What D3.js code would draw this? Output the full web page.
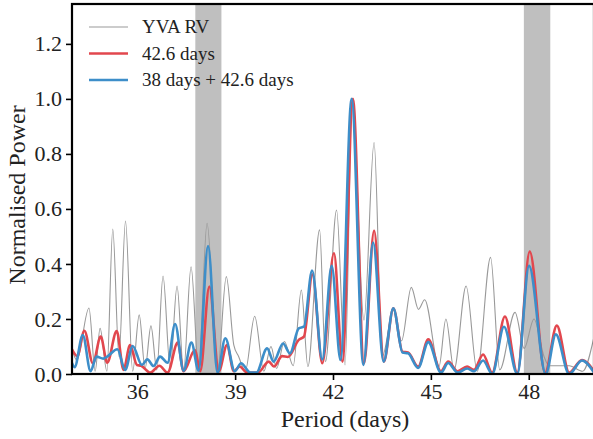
<!DOCTYPE html>
<html>
<head>
<meta charset="utf-8">
<script src="https://cdn.jsdelivr.net/npm/d3@7"></script>
<style>
	body { margin: 0; background: #fff; }
	svg text { font-family: "Liberation Serif", "DejaVu Serif", serif; fill: #222; }
</style>
</head>
<body>
<div id="chart"></div>
<script>
// periodogram peaks / troughs
const yvaPeriod = [34.0, 34.15, 34.52, 34.71, 34.86, 35.07, 35.25, 35.44, 35.64, 35.86, 36.06, 36.24, 36.42, 36.6, 36.79, 37.01, 37.22, 37.42, 37.65, 37.88, 38.14, 38.46, 38.73, 38.96, 39.11, 39.31, 39.6, 39.88, 40.1, 40.27, 40.51, 40.78, 41.03, 41.23, 41.59, 41.77, 42.11, 42.37, 42.59, 42.95, 43.26, 43.51, 43.85, 44.1, 44.4, 44.62, 44.81, 45.25, 45.46, 45.71, 46.08, 46.42, 46.83, 47.11, 47.58, 47.86, 48.16, 48.47, 48.62, 49.24, 49.65, 50.0];
const yvaPower = [0.09, 0.05, 0.24, 0.01, 0.166, 0.01, 0.527, 0.063, 0.556, 0.01, 0.215, 0.02, 0.175, 0.015, 0.356, 0.02, 0.32, 0.01, 0.39, 0.02, 0.548, 0.01, 0.354, 0.105, 0.063, 0.01, 0.21, 0.01, 0.1, 0.02, 0.118, 0.03, 0.305, 0.027, 0.524, 0.045, 0.596, 0.033, 1.0, 0.196, 0.841, 0.063, 0.232, 0.12, 0.315, 0.235, 0.27, 0.027, 0.2, 0.015, 0.32, 0.01, 0.424, 0.015, 0.224, 0.093, 0.2, 0.063, 0.03, 0.03, 0.01, 0.135];

const redPeriod = [34.0, 34.16, 34.38, 34.64, 34.88, 35.08, 35.37, 35.58, 35.78, 35.99, 36.12, 36.4, 36.68, 36.93, 37.24, 37.42, 37.77, 37.93, 38.21, 38.5, 38.75, 38.96, 39.14, 39.37, 39.7, 40.03, 40.19, 40.44, 40.62, 40.95, 41.11, 41.37, 41.67, 42.03, 42.29, 42.61, 42.95, 43.26, 43.56, 43.85, 44.13, 44.3, 44.61, 44.92, 45.31, 45.53, 45.82, 46.11, 46.32, 46.6, 46.88, 47.27, 47.65, 48.03, 48.5, 48.86, 49.24, 49.63, 50.0];
const redPower = [0.09, 0.065, 0.157, 0.039, 0.136, 0.041, 0.156, 0.015, 0.105, 0.033, 0.03, 0.005, 0.03, 0.005, 0.114, 0.01, 0.087, 0.01, 0.318, 0.01, 0.105, 0.01, 0.027, 0.005, 0.005, 0.045, 0.027, 0.065, 0.062, 0.124, 0.136, 0.362, 0.039, 0.439, 0.045, 1.0, 0.039, 0.521, 0.045, 0.239, 0.081, 0.078, 0.027, 0.126, 0.01, 0.045, 0.01, 0.027, 0.015, 0.071, 0.005, 0.209, 0.005, 0.445, 0.005, 0.176, 0.005, 0.051, 0.01];

const bluePeriod = [34.0, 34.08, 34.33, 34.57, 34.75, 34.96, 35.1, 35.39, 35.63, 35.86, 36.14, 36.31, 36.5, 36.7, 36.93, 37.16, 37.42, 37.66, 37.88, 38.17, 38.46, 38.7, 38.99, 39.18, 39.47, 39.65, 39.98, 40.18, 40.47, 40.68, 40.95, 41.11, 41.36, 41.67, 41.96, 42.23, 42.57, 42.93, 43.23, 43.55, 43.85, 44.13, 44.3, 44.61, 44.92, 45.31, 45.53, 45.82, 46.11, 46.32, 46.6, 46.88, 47.24, 47.65, 48.01, 48.52, 48.83, 49.24, 49.63, 50.0];
const bluePower = [0.04, 0.025, 0.142, 0.01, 0.063, 0.056, 0.065, 0.09, 0.015, 0.102, 0.033, 0.053, 0.029, 0.063, 0.041, 0.182, 0.012, 0.114, 0.012, 0.465, 0.005, 0.13, 0.01, 0.039, 0.005, 0.005, 0.093, 0.045, 0.111, 0.075, 0.166, 0.172, 0.376, 0.053, 0.393, 0.051, 1.0, 0.033, 0.478, 0.045, 0.239, 0.078, 0.075, 0.022, 0.116, 0.005, 0.04, 0.005, 0.02, 0.01, 0.049, 0.0, 0.172, 0.0, 0.393, 0.0, 0.144, 0.0, 0.049, 0.005];

const bandStart = [37.78, 47.85];
const bandEnd = [38.58, 48.66];

const xTicks = [36, 39, 42, 45, 48];
const yTicks = [0.0, 0.2, 0.4, 0.6, 0.8, 1.0, 1.2];

const seriesNames = ["YVA RV", "42.6 days", "38 days + 42.6 days"];
const seriesColors = ["#999999", "#e2474e", "#3d8ec9"];
const seriesWidths = [1.1, 2.6, 2.6];

const MARGIN = { top: 4, right: -1, bottom: 65, left: 72 };
const WIDTH = 593 - MARGIN.left - MARGIN.right;
const HEIGHT = 439 - MARGIN.top - MARGIN.bottom;

const svg = d3
	.select("#chart")
	.append("svg")
	.attr("width", 593)
	.attr("height", 439);

const chart = svg
	.append("g")
	.attr("transform", `translate(${MARGIN.left}, ${MARGIN.top})`);

const xScale = d3.scaleLinear().domain([34, 50]).range([0, WIDTH]);
const yScale = d3.scaleLinear().domain([0, 1.345]).range([HEIGHT, 0]);

chart
	.append("clipPath")
	.attr("id", "plot-clip")
	.append("rect")
	.attr("width", WIDTH)
	.attr("height", HEIGHT);

// shaded period bands
chart
	.selectAll(".band")
	.data(bandStart.map((s, i) => [s, bandEnd[i]]))
	.enter()
	.append("rect")
	.attr("class", "band")
	.attr("x", (d) => xScale(d[0]))
	.attr("y", 0)
	.attr("width", (d) => xScale(d[1]) - xScale(d[0]))
	.attr("height", HEIGHT)
	.attr("fill", "#bfbfbf");

const series = [
	yvaPeriod.map((p, i) => [p, yvaPower[i]]),
	redPeriod.map((p, i) => [p, redPower[i]]),
	bluePeriod.map((p, i) => [p, bluePower[i]]),
];

const line = d3
	.line()
	.x((d) => xScale(d[0]))
	.y((d) => yScale(d[1]))
	.curve(d3.curveMonotoneX);

chart
	.append("g")
	.attr("clip-path", "url(#plot-clip)")
	.selectAll("path")
	.data(series)
	.enter()
	.append("path")
	.attr("d", line)
	.attr("fill", "none")
	.attr("stroke", (d, i) => seriesColors[i])
	.attr("stroke-width", (d, i) => seriesWidths[i])
	.attr("stroke-linejoin", "round");

// axes
const xAxisCall = d3
	.axisBottom(xScale)
	.tickValues(xTicks)
	.tickSizeInner(6)
	.tickSizeOuter(0)
	.tickPadding(4)
	.tickFormat(d3.format("d"));
const yAxisCall = d3
	.axisLeft(yScale)
	.tickValues(yTicks)
	.tickSizeInner(6)
	.tickSizeOuter(0)
	.tickPadding(4)
	.tickFormat(d3.format(".1f"));

const xAxisGroup = chart
	.append("g")
	.attr("transform", `translate(0, ${HEIGHT})`)
	.call(xAxisCall);
const yAxisGroup = chart.append("g").call(yAxisCall);

[xAxisGroup, yAxisGroup].forEach((g) => {
	g.select(".domain").remove();
	g.selectAll(".tick line").attr("stroke", "#000").attr("stroke-width", 1.6);
	g.selectAll(".tick text")
		.attr("font-size", "22px")
		.attr("font-family", null)
		.attr("fill", "#222");
});
xAxisGroup.selectAll(".tick text").attr("dy", "0.7em");

// frame
chart
	.append("rect")
	.attr("width", WIDTH)
	.attr("height", HEIGHT)
	.attr("fill", "none")
	.attr("stroke", "#000")
	.attr("stroke-width", 2.2);

chart
	.append("text")
	.attr("x", WIDTH / 2 + 12)
	.attr("y", HEIGHT + 53)
	.attr("text-anchor", "middle")
	.attr("font-size", "24px")
	.text("Period (days)");

chart
	.append("text")
	.attr("transform", `translate(${-MARGIN.left + 25}, ${HEIGHT / 2 + 6}) rotate(-90)`)
	.attr("text-anchor", "middle")
	.attr("font-size", "24px")
	.text("Normalised Power");

// legend
const legend = chart
	.append("g")
	.attr("transform", "translate(17, 23)");
const legendRows = legend
	.selectAll(".legend-row")
	.data(seriesNames)
	.enter()
	.append("g")
	.attr("class", "legend-row")
	.attr("transform", (d, i) => `translate(0, ${i * 26.5})`);
legendRows
	.append("line")
	.attr("x1", 0)
	.attr("x2", 39)
	.attr("stroke", (d, i) => seriesColors[i])
	.attr("stroke-width", (d, i) => seriesWidths[i]);
legendRows
	.append("text")
	.attr("x", 53)
	.attr("y", 6)
	.attr("font-size", "19px")
	.text((d) => d);
</script>
</body>
</html>
